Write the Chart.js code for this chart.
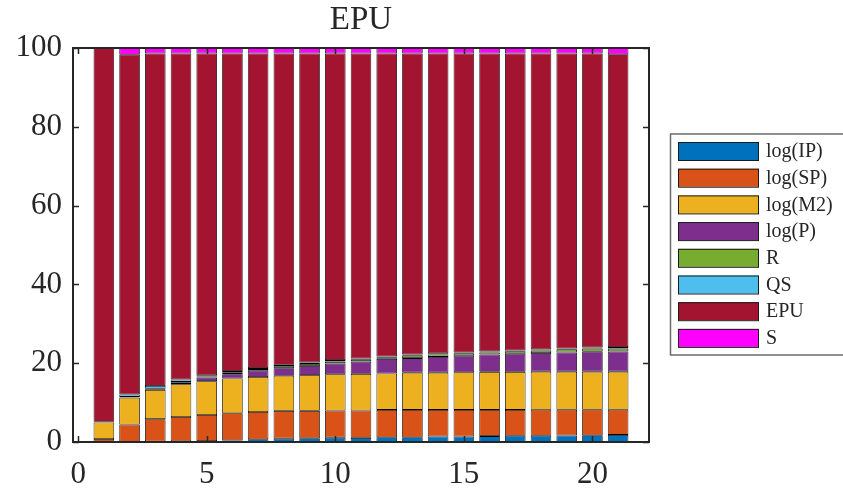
<!DOCTYPE html>
<html>
<head>
<meta charset="UTF-8">
<title>EPU</title>
<script src="https://cdn.jsdelivr.net/npm/chart.js"></script>
<style>
    body { margin: 0; background: #fff; }
    canvas { display: block; }
</style>
</head>
<body>
<canvas id="epuChart" width="843" height="491"></canvas>
<script>
// horizon (x values) and tick labels
var periods = [1,2,3,4,5,6,7,8,9,10,11,12,13,14,15,16,17,18,19,20,21];
var xTicks = [0, 5, 10, 15, 20];
var yTicks = [0, 20, 40, 60, 80, 100];

// share of each shock (percent)
var logIP = [0.05,0.05,0.1,0.15,0.25,0.4,0.7,0.85,0.95,1.1,1.05,1.2,1.2,1.4,1.4,1.5,1.6,1.6,1.65,1.7,1.8];
var logSP = [0.7,4.4,5.7,6.2,6.6,6.9,6.9,7.05,6.95,6.9,6.95,6.95,6.95,6.75,6.75,6.65,6.55,6.6,6.55,6.5,6.4];
var logM2 = [4.2,6.8,7.4,8.3,8.6,8.8,8.9,8.9,9.1,9.2,9.3,9.25,9.45,9.45,9.55,9.65,9.65,9.65,9.65,9.65,9.65];
var logP  = [0.05,0.1,0.2,0.4,0.9,1.1,1.6,1.9,2.3,2.7,3.1,3.7,3.7,4.0,4.2,4.4,4.6,4.75,4.85,5.05,5.15];
var rate  = [0.05,0.1,0.1,0.2,0.3,0.4,0.4,0.5,0.5,0.5,0.5,0.4,0.6,0.6,0.5,0.5,0.5,0.6,0.7,0.8,0.7];
var qs    = [0.1,0.6,0.7,0.6,0.3,0.4,0.3,0.4,0.4,0.4,0.3,0.2,0.3,0.3,0.3,0.3,0.3,0.3,0.3,0.3,0.4];
var epu   = [94.85,86.25,84.4,82.75,81.65,80.6,79.8,79.0,78.4,77.8,77.4,76.9,76.4,76.1,75.9,75.6,75.4,75.1,74.9,74.6,74.3];
var sShare= [0,1.7,1.4,1.4,1.4,1.4,1.4,1.4,1.4,1.4,1.4,1.4,1.4,1.4,1.4,1.4,1.4,1.4,1.4,1.4,1.6];

var names  = ['log(IP)', 'log(SP)', 'log(M2)', 'log(P)', 'R', 'QS', 'EPU', 'S'];
var series = [logIP, logSP, logM2, logP, rate, qs, epu, sShare];
var colors = ['#0072BD', '#D95319', '#EDB120', '#7E2F8E', '#77AC30', '#4DBEEE', '#A2142F', '#FF00FF'];

var serif = '"Liberation Serif", "Times New Roman", serif';
var ink = '#262626';

var datasets = series.map(function(vals, k) {
    return {
        label: names[k],
        data: vals.map(function(v, i) { return { x: periods[i], y: v }; }),
        backgroundColor: colors[k],
        borderColor: '#000',
        borderWidth: 0.8,
        borderSkipped: false,
        barPercentage: 0.8,
        categoryPercentage: 1.0
    };
});

// MATLAB-like box with inward ticks on all four sides
var boxPlugin = {
    id: 'box',
    afterDatasetsDraw: function(chart) {
        var ctx = chart.ctx, a = chart.chartArea;
        var xs = chart.scales.x, ys = chart.scales.y;
        ctx.save();
        ctx.strokeStyle = ink;
        ctx.lineWidth = 1.5;
        ctx.beginPath();
        xTicks.forEach(function(v) {
            var p = Math.round(xs.getPixelForValue(v)) + 0.5;
            ctx.moveTo(p, a.bottom); ctx.lineTo(p, a.bottom - 6);
            ctx.moveTo(p, a.top); ctx.lineTo(p, a.top + 6);
        });
        yTicks.forEach(function(v) {
            var p = Math.round(ys.getPixelForValue(v)) + 0.5;
            ctx.moveTo(a.left, p); ctx.lineTo(a.left + 6, p);
            ctx.moveTo(a.right, p); ctx.lineTo(a.right - 6, p);
        });
        ctx.stroke();
        ctx.lineWidth = 2;
        ctx.strokeRect(a.left, a.top, a.right - a.left, a.bottom - a.top);
        ctx.restore();
    }
};

// boxed legend on the right
var legendPlugin = {
    id: 'boxLegend',
    afterDraw: function(chart) {
        var ctx = chart.ctx;
        ctx.save();
        ctx.strokeStyle = '#6a6a6a';
        ctx.lineWidth = 1.5;
        ctx.strokeRect(670.5, 134, 180, 221);
        ctx.font = '20px ' + serif;
        ctx.textBaseline = 'middle';
        ctx.textAlign = 'left';
        chart.data.datasets.forEach(function(ds, k) {
            var cy = 151 + k * 26.7;
            ctx.fillStyle = ds.backgroundColor;
            ctx.fillRect(678, cy - 9, 81, 18);
            ctx.strokeStyle = '#1a1a1a';
            ctx.lineWidth = 1;
            ctx.strokeRect(678.5, cy - 9 + 0.5, 80, 18);
            ctx.fillStyle = ink;
            ctx.fillText(ds.label, 766, cy + 1);
        });
        ctx.restore();
    }
};

new Chart(document.getElementById('epuChart'), {
    type: 'bar',
    data: { datasets: datasets },
    options: {
        responsive: false,
        animation: false,
        layout: { padding: { left: 0, right: 194, top: 0, bottom: 0 } },
        plugins: {
            legend: { display: false },
            tooltip: { enabled: false },
            title: {
                display: true,
                text: 'EPU',
                fullSize: false,
                color: ink,
                font: { family: serif, size: 33, weight: 'normal', lineHeight: 1.0 },
                padding: { top: 4, bottom: 11 }
            }
        },
        scales: {
            x: {
                type: 'linear',
                stacked: true,
                min: -0.2,
                max: 22.2,
                offset: false,
                grid: { display: false, drawTicks: false },
                border: { display: false },
                afterBuildTicks: function(s) { s.ticks = xTicks.map(function(v) { return { value: v }; }); },
                afterFit: function(s) { s.height = 49; },
                ticks: { color: ink, padding: 14, maxRotation: 0, autoSkip: false, font: { family: serif, size: 31 } }
            },
            y: {
                stacked: true,
                min: 0,
                max: 100,
                grid: { display: false, drawTicks: false },
                border: { display: false },
                afterBuildTicks: function(s) { s.ticks = yTicks.map(function(v) { return { value: v }; }); },
                afterFit: function(s) { s.width = 73; },
                ticks: { color: ink, padding: 11, font: { family: serif, size: 31 } }
            }
        }
    },
    plugins: [boxPlugin, legendPlugin]
});
</script>
</body>
</html>
